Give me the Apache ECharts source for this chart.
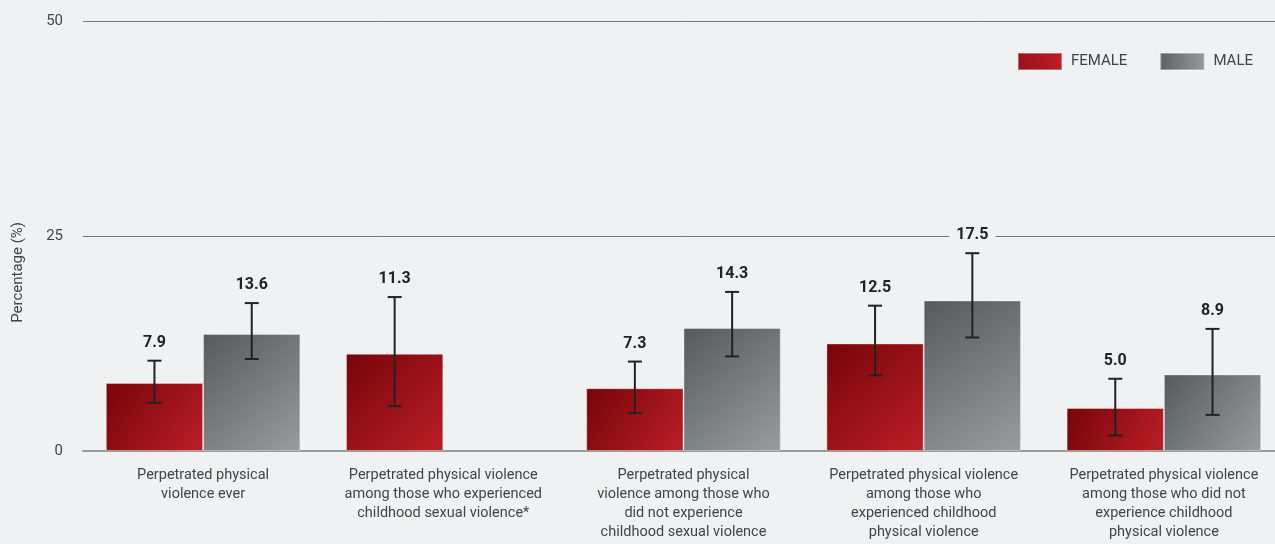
<!DOCTYPE html>
<html>
<head>
<meta charset="utf-8">
<script src="https://cdn.jsdelivr.net/npm/echarts@6/dist/echarts.min.js"></script>
<style>
  html, body { margin: 0; padding: 0; background: #f0f1f3; overflow: hidden; }
  #chart { width: 1284px; height: 544px; }
</style>
</head>
<body>
<div id="chart"></div>
<script>
// categories and values
var categories = [
  'Perpetrated physical\nviolence ever',
  'Perpetrated physical violence\namong those who experienced\nchildhood sexual violence*',
  'Perpetrated physical\nviolence among those who\ndid not experience\nchildhood sexual violence',
  'Perpetrated physical violence\namong those who\nexperienced childhood\nphysical violence',
  'Perpetrated physical violence\namong those who did not\nexperience childhood\nphysical violence'
]
var female = [7.9, 11.3, 7.3, 12.5, 5.0]
var male = [13.6, null, 14.3, 17.5, 8.9]
// 95% CI lower / upper
var femaleLow = [5.6, 5.2, 4.4, 8.8, 1.8]
var femaleHigh = [10.5, 17.9, 10.4, 16.9, 8.4]
var maleLow = [10.7, null, 11.0, 13.2, 4.2]
var maleHigh = [17.2, null, 18.5, 23.0, 14.2]
var yTicks = [0, 25, 50]

var FONT = 'Roboto, sans-serif'
var BG = '#f0f1f3'

function errData (vals, lows, highs) {
  var out = []
  for (var i = 0; i < vals.length; i++) {
    if (vals[i] === null) continue
    out.push([i, lows[i], highs[i], vals[i]])
  }
  return out
}

function errRender (side) {
  return function (params, api) {
    var idx = api.value(0)
    var catW = api.size([1, 0])[0]
    var barW = catW * 0.81 / 2
    var x = api.coord([idx, 0])[0] + side * barW / 2
    var lo = api.coord([idx, api.value(1)])[1]
    var hi = api.coord([idx, api.value(2)])[1]
    var cap = 7
    var st = { stroke: '#222', lineWidth: 2 }
    return {
      type: 'group',
      children: [
        { type: 'line', shape: { x1: x, y1: hi, x2: x, y2: lo }, style: st },
        { type: 'line', shape: { x1: x - cap, y1: hi, x2: x + cap, y2: hi }, style: st },
        { type: 'line', shape: { x1: x - cap, y1: lo, x2: x + cap, y2: lo }, style: st },
        {
          type: 'text',
          z2: 10,
          style: {
            text: api.value(3).toFixed(1),
            x: x,
            y: hi - 10,
            align: 'center',
            verticalAlign: 'bottom',
            fill: '#222',
            font: 'bold 16px ' + FONT,
            backgroundColor: BG,
            padding: [0, 7, 0, 7]
          }
        }
      ]
    }
  }
}

var femaleColor = new echarts.graphic.LinearGradient(0, 0, 1, 1, [
  { offset: 0, color: '#760509' },
  { offset: 1, color: '#bb1e27' }
])
var maleColor = new echarts.graphic.LinearGradient(0, 0, 1, 1, [
  { offset: 0, color: '#58595b' },
  { offset: 1, color: '#9a9b9e' }
])

var chart = echarts.init(document.getElementById('chart'))
chart.setOption({
  backgroundColor: BG,
  animation: false,
  textStyle: { fontFamily: FONT },
  legend: {
    right: 26,
    top: 47,
    itemWidth: 44,
    itemHeight: 17,
    itemGap: 32,
    textStyle: { fontSize: 15, color: '#444', fontFamily: FONT, padding: [0, 0, 0, 4] },
    data: [
      { name: 'FEMALE', icon: 'rect', itemStyle: { color: new echarts.graphic.LinearGradient(0, 0, 1, 0, [{ offset: 0, color: '#961219' }, { offset: 1, color: '#bd1e27' }]) } },
      { name: 'MALE', icon: 'rect', itemStyle: { color: new echarts.graphic.LinearGradient(0, 0, 1, 0, [{ offset: 0, color: '#5f6062' }, { offset: 1, color: '#97989b' }]) } }
    ]
  },
  grid: { left: 83, right: 0, top: 21, bottom: 93, containLabel: false },
  graphic: [{
    type: 'text',
    left: 11,
    top: 222,
    rotation: Math.PI / 2,
    style: { text: 'Percentage (%)', fill: '#444', font: '15px ' + FONT }
  }],
  xAxis: {
    type: 'category',
    data: categories,
    axisTick: { show: false },
    axisLine: { lineStyle: { color: '#9a9a9a', width: 2 } },
    axisLabel: {
      interval: 0,
      margin: 15,
      color: '#444',
      fontSize: 14.5,
      lineHeight: 19,
      fontFamily: FONT,
      verticalAlign: 'top'
    }
  },
  yAxis: {
    type: 'value',
    min: yTicks[0],
    max: yTicks[yTicks.length - 1],
    interval: 25,
    axisLine: { show: false },
    axisTick: { show: false },
    axisLabel: { color: '#444', fontSize: 15, fontFamily: FONT, margin: 20 },
    splitLine: { lineStyle: { color: '#777', width: 1 } }
  },
  series: [
    {
      name: 'FEMALE',
      type: 'bar',
      data: female,
      barGap: 0,
      barCategoryGap: '19%',
      itemStyle: { color: femaleColor, borderColor: 'rgba(255,255,255,0.35)', borderWidth: 1 }
    },
    {
      name: 'MALE',
      type: 'bar',
      data: male,
      itemStyle: { color: maleColor, borderColor: 'rgba(255,255,255,0.35)', borderWidth: 1 }
    },
    {
      type: 'custom',
      renderItem: errRender(-1),
      data: errData(female, femaleLow, femaleHigh),
      z: 5
    },
    {
      type: 'custom',
      renderItem: errRender(1),
      data: errData(male, maleLow, maleHigh),
      z: 5
    }
  ]
})
</script>
</body>
</html>
